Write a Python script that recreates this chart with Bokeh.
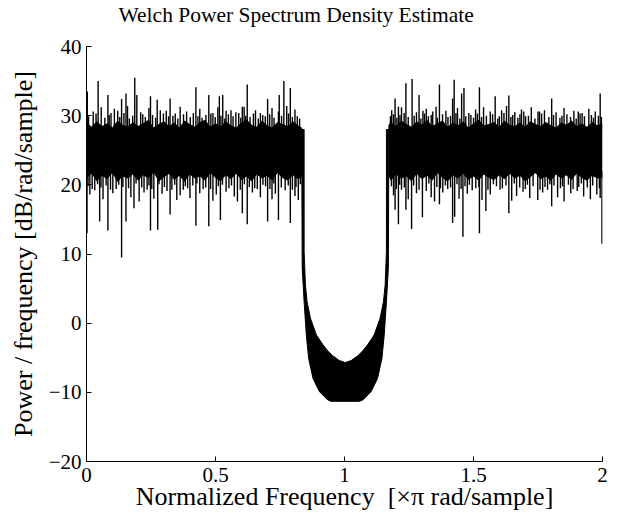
from bokeh.plotting import figure
from bokeh.models import Range1d, FixedTicker, ColumnDataSource
from bokeh.embed import file_html
from bokeh.resources import INLINE

# ---- data ----
# passband core envelope (left band)
left_f = [0.00, 0.02, 0.04, 0.06, 0.08, 0.10, 0.12, 0.14, 0.16, 0.18,
          0.20, 0.22, 0.24, 0.26, 0.28, 0.30, 0.32, 0.34, 0.36, 0.38,
          0.40, 0.42, 0.44, 0.46, 0.48, 0.50, 0.52, 0.54, 0.56, 0.58,
          0.60, 0.62, 0.64, 0.66, 0.68, 0.70, 0.72, 0.74, 0.76, 0.78,
          0.80, 0.82, 0.836]
left_hi = [29.0, 28.4, 29.2, 28.5, 28.9, 28.3, 29.3, 28.7, 28.4, 29.1,
           28.5, 28.9, 29.4, 28.3, 28.8, 29.2, 28.5, 29.0, 28.3, 29.3,
           28.8, 28.4, 29.1, 29.4, 28.4, 28.9, 28.5, 29.2, 28.6, 28.3,
           29.0, 29.5, 28.7, 28.4, 29.3, 28.6, 28.3, 29.1, 28.8, 28.5,
           29.2, 28.6, 28.2]
left_lo = [21.0, 21.6, 20.5, 21.3, 20.8, 21.7, 20.4, 21.2, 20.9, 21.5,
           20.6, 21.4, 20.9, 21.8, 20.5, 21.1, 21.6, 20.7, 21.3, 20.4,
           21.5, 20.9, 21.2, 20.6, 21.7, 21.0, 20.5, 21.4, 20.8, 21.6,
           20.7, 21.2, 20.5, 21.5, 20.9, 21.3, 20.6, 21.7, 21.0, 20.6,
           21.4, 20.8, 21.2]
# passband core envelope (right band)
right_f = [1.17, 1.18, 1.20, 1.22, 1.24, 1.26, 1.28, 1.30, 1.32, 1.34,
           1.36, 1.38, 1.40, 1.42, 1.44, 1.46, 1.48, 1.50, 1.52, 1.54,
           1.56, 1.58, 1.60, 1.62, 1.64, 1.66, 1.68, 1.70, 1.72, 1.74,
           1.76, 1.78, 1.80, 1.82, 1.84, 1.86, 1.88, 1.90, 1.92, 1.94,
           1.96, 1.98, 2.00]
right_hi = [28.6, 29.1, 28.5, 29.3, 28.8, 28.4, 29.2, 28.7, 29.4, 28.5,
            28.9, 29.3, 28.4, 29.0, 28.6, 29.2, 28.3, 28.9, 29.4, 28.6,
            28.8, 29.1, 28.4, 29.3, 28.7, 28.5, 29.0, 28.4, 29.2, 28.8,
            28.5, 29.1, 28.6, 28.3, 29.0, 28.7, 29.3, 28.5, 28.9, 28.4,
            29.1, 28.6, 28.9]
right_lo = [21.3, 20.6, 21.5, 20.9, 21.2, 20.5, 21.6, 20.8, 21.3, 20.6,
            21.7, 21.0, 20.5, 21.4, 20.9, 21.6, 20.7, 21.2, 20.6, 21.5,
            21.0, 20.7, 21.4, 20.8, 21.6, 20.9, 21.3, 20.5, 21.1, 21.7,
            20.8, 21.2, 20.6, 21.5, 20.9, 21.4, 20.7, 21.6, 21.0, 20.6,
            21.3, 20.9, 21.0]

# tall spikes above / below the passband core
spike_up_f = [0.003, 0.045, 0.083, 0.136, 0.153, 0.187, 0.195, 0.248, 0.274, 0.309,
              0.324, 0.424, 0.474, 0.515, 0.528, 0.560, 0.604, 0.623, 0.702, 0.747,
              0.765, 0.790, 0.817, 1.196, 1.209, 1.238, 1.262, 1.289, 1.304, 1.368,
              1.419, 1.425, 1.454, 1.463, 1.523, 1.584, 1.637, 1.695, 1.756, 1.803,
              1.906, 1.991]
spike_up_db = [33.5, 35.0, 33.0, 32.4, 33.2, 35.5, 33.0, 32.8, 32.3, 30.7,
               32.5, 34.1, 33.0, 32.8, 33.0, 30.8, 31.3, 34.5, 32.4, 33.0,
               35.0, 34.0, 29.9, 32.5, 31.3, 34.7, 35.3, 33.0, 30.7, 34.5,
               32.5, 35.2, 33.2, 34.0, 34.1, 32.8, 32.9, 30.6, 30.6, 32.5,
               30.6, 33.2]
spike_dn_f = [0.002, 0.051, 0.083, 0.136, 0.153, 0.184, 0.248, 0.276, 0.324, 0.424,
              0.474, 0.519, 0.604, 0.623, 0.702, 0.744, 0.790, 1.196, 1.209, 1.238,
              1.260, 1.302, 1.368, 1.419, 1.427, 1.459, 1.523, 1.548, 1.637, 1.803,
              1.991, 1.998]
spike_dn_db = [13.0, 14.7, 13.4, 9.5, 14.7, 16.6, 13.4, 13.5, 15.7, 14.1,
               14.0, 14.9, 15.9, 14.3, 14.7, 14.9, 14.5, 16.4, 14.3, 16.4,
               13.6, 15.3, 17.2, 14.5, 15.4, 12.5, 13.0, 16.2, 15.9, 16.9,
               18.1, 11.5]

# medium fringe spikes
fringe_up_f = [0.026, 0.057, 0.095, 0.108, 0.121, 0.159, 0.210, 0.242, 0.286, 0.344,
               0.363, 0.388, 0.439, 0.490, 0.509, 0.541, 0.579, 0.611, 0.655, 0.674,
               0.719, 0.744, 0.776, 0.808, 1.183, 1.221, 1.279, 1.317, 1.342, 1.355,
               1.393, 1.438, 1.482, 1.508, 1.539, 1.565, 1.609, 1.628, 1.660, 1.686,
               1.724, 1.750, 1.775, 1.820, 1.851, 1.889, 1.921, 1.947, 1.972]
fringe_up_db = [30.6, 31.2, 30.4, 31.0, 30.7, 31.4, 30.5, 31.1, 30.8, 30.3,
                31.3, 30.6, 31.0, 30.4, 31.2, 30.7, 30.5, 31.3, 30.8, 30.4,
                31.1, 30.6, 31.4, 30.9, 30.8, 31.2, 30.5, 31.0, 30.6, 31.3,
                30.7, 31.1, 30.4, 30.9, 31.2, 30.6, 30.8, 31.4, 30.5, 30.9,
                31.2, 30.6, 30.8, 30.5, 31.1, 30.7, 30.4, 31.0, 30.6]
fringe_dn_f = [0.013, 0.032, 0.064, 0.102, 0.115, 0.172, 0.204, 0.223, 0.235, 0.261,
               0.293, 0.312, 0.350, 0.363, 0.375, 0.401, 0.439, 0.452, 0.490, 0.503,
               0.541, 0.573, 0.585, 0.643, 0.662, 0.674, 0.719, 0.732, 0.770, 0.808,
               0.821, 1.190, 1.221, 1.247, 1.279, 1.317, 1.336, 1.349, 1.381, 1.400,
               1.444, 1.476, 1.495, 1.533, 1.565, 1.603, 1.648, 1.667, 1.692, 1.718,
               1.749, 1.768, 1.787, 1.826, 1.851, 1.877, 1.902, 1.927, 1.953, 1.978]
fringe_dn_db = [18.6, 19.2, 17.9, 18.8, 19.4, 18.2, 17.6, 18.9, 19.3, 18.0,
                18.7, 19.1, 17.8, 18.5, 19.3, 18.1, 18.8, 19.4, 17.7, 18.6,
                19.0, 18.3, 17.6, 18.9, 19.4, 18.2, 17.9, 18.7, 19.2, 18.4,
                17.8, 18.5, 19.3, 17.9, 18.8, 19.1, 18.2, 17.6, 18.9, 19.4,
                18.0, 18.7, 19.2, 17.8, 18.6, 19.3, 17.7, 18.4, 19.0, 18.1,
                17.8, 18.9, 19.3, 18.2, 17.6, 18.8, 19.1, 18.3, 17.9, 18.6]

# small fringe spikes hugging the core
fringe2_up_f = [0.008, 0.037, 0.071, 0.088, 0.129, 0.145, 0.166, 0.179, 0.218, 0.228,
                0.256, 0.268, 0.298, 0.318, 0.335, 0.354, 0.376, 0.402, 0.414, 0.432,
                0.448, 0.463, 0.482, 0.499, 0.521, 0.536, 0.550, 0.568, 0.590, 0.598,
                0.617, 0.634, 0.647, 0.666, 0.683, 0.693, 0.710, 0.727, 0.756, 0.783,
                0.798, 0.826, 1.178, 1.190, 1.203, 1.215, 1.231, 1.247, 1.270, 1.296,
                1.310, 1.325, 1.336, 1.360, 1.380, 1.401, 1.411, 1.432, 1.447, 1.470,
                1.490, 1.500, 1.515, 1.531, 1.550, 1.574, 1.594, 1.600, 1.618, 1.645,
                1.652, 1.672, 1.680, 1.702, 1.713, 1.738, 1.764, 1.792, 1.810, 1.835,
                1.843, 1.862, 1.876, 1.898, 1.913, 1.930, 1.957, 1.965, 1.984, 1.996]
fringe2_up_db = [29.9, 30.3, 29.7, 30.1, 29.8, 30.4, 29.6, 30.0, 30.2, 29.8,
                 30.1, 29.7, 30.3, 29.9, 30.0, 29.6, 30.2, 29.8, 30.4, 29.9,
                 29.7, 30.1, 30.3, 29.8, 30.0, 29.6, 30.2, 29.9, 30.4, 29.7,
                 30.0, 29.8, 30.3, 29.6, 30.1, 29.9, 30.2, 29.7, 30.0, 30.3,
                 29.8, 29.6, 29.9, 30.2, 29.7, 30.1, 30.4, 29.8, 30.0, 29.6,
                 30.3, 29.9, 30.1, 29.7, 30.2, 29.8, 30.0, 30.4, 29.6, 29.9,
                 30.1, 29.7, 30.3, 29.8, 30.0, 30.2, 29.6, 29.9, 30.4, 29.8,
                 30.1, 29.7, 30.2, 29.9, 30.0, 29.6, 30.3, 29.8, 30.1, 29.7,
                 30.0, 30.2, 29.8, 29.6, 30.3, 29.9, 30.1, 29.7, 30.0, 29.8]
fringe2_dn_f = [0.006, 0.022, 0.043, 0.056, 0.076, 0.093, 0.125, 0.141, 0.163, 0.192,
                0.214, 0.242, 0.253, 0.281, 0.302, 0.331, 0.342, 0.383, 0.392, 0.412,
                0.428, 0.462, 0.481, 0.511, 0.527, 0.552, 0.562, 0.596, 0.612, 0.631,
                0.652, 0.684, 0.694, 0.711, 0.726, 0.755, 0.782, 0.798, 0.812, 0.829,
                1.182, 1.201, 1.214, 1.232, 1.268, 1.289, 1.327, 1.358, 1.372, 1.391,
                1.411, 1.436, 1.452, 1.467, 1.484, 1.509, 1.521, 1.556, 1.577, 1.589,
                1.612, 1.626, 1.658, 1.679, 1.701, 1.709, 1.731, 1.758, 1.777, 1.796,
                1.812, 1.837, 1.845, 1.868, 1.886, 1.908, 1.918, 1.941, 1.962, 1.988]
fringe2_dn_db = [19.8, 19.4, 20.1, 19.6, 19.9, 19.3, 20.0, 19.7, 19.5, 20.2,
                 19.6, 19.9, 19.4, 20.1, 19.7, 19.3, 20.0, 19.8, 19.5, 19.9,
                 20.2, 19.6, 19.4, 19.8, 20.0, 19.5, 19.9, 19.3, 20.1, 19.7,
                 19.5, 20.0, 19.8, 19.4, 20.2, 19.6, 19.9, 19.3, 19.7, 20.1,
                 19.8, 19.4, 20.0, 19.6, 19.9, 19.3, 20.2, 19.7, 19.5, 19.9,
                 19.6, 20.1, 19.4, 19.8, 20.0, 19.5, 19.7, 19.3, 20.1, 19.8,
                 19.5, 19.9, 20.2, 19.6, 19.4, 20.0, 19.8, 19.3, 19.7, 20.1,
                 19.9, 19.5, 19.8, 20.0, 19.4, 19.7, 20.2, 19.6, 19.9, 19.5]

# stopband: lower (outer) and upper (inner) envelope of the fast oscillation
stop_outer_f = [0.834, 0.836, 0.8435, 0.852, 0.861, 0.878, 0.903, 0.935, 0.948,
                1.058, 1.071, 1.103, 1.128, 1.145, 1.154, 1.1625, 1.170, 1.172]
stop_outer_db = [28.0, 8.0, 3.1, -1.7, -5.1, -8.0, -9.9, -11.1, -11.3,
                 -11.3, -11.1, -9.9, -8.0, -5.1, -1.7, 3.1, 8.0, 28.0]
stop_inner_f = [0.8435, 0.8435, 0.8486, 0.855, 0.868, 0.891, 0.916, 0.935, 0.954,
                0.980, 1.003, 1.026, 1.052, 1.071, 1.090, 1.115, 1.138, 1.151,
                1.1575, 1.1625, 1.1625]
stop_inner_db = [28.0, 10.4, 5.5, 3.1, 0.7, -1.7, -3.1, -4.0, -4.7,
                 -5.4, -5.7, -5.4, -4.7, -4.0, -3.1, -1.7, 0.7, 3.1,
                 5.5, 10.4, 28.0]

x_ticks = [0, 0.5, 1, 1.5, 2]
x_tick_labels = ["0", "0.5", "1", "1.5", "2"]
y_ticks = [-20, -10, 0, 10, 20, 30, 40]
y_tick_labels = ["\u221220", "\u221210", "0", "10", "20", "30", "40"]

FONT = "Liberation Serif"
FRAME_LEFT, FRAME_TOP, FRAME_BOTTOM = 86, 45, 461

p = figure(width=618, height=523,
           x_range=Range1d(0, 2), y_range=Range1d(-20, 40),
           output_backend="svg", toolbar_location=None,
           min_border_left=FRAME_LEFT, min_border_right=16,
           min_border_top=FRAME_TOP, min_border_bottom=523 - FRAME_BOTTOM)

p.title.text = "Welch Power Spectrum Density Estimate"
p.title.text_font = FONT
p.title.text_font_size = "21.5px"
p.title.text_font_style = "normal"
p.title.text_color = "black"
p.title.align = "left"
p.title.offset = 32
p.title.vertical_align = "bottom"
p.title.standoff = 0
p.title.padding = (0, 0, 0, 20)

p.xgrid.visible = False
p.ygrid.visible = False
p.outline_line_color = None
p.background_fill_color = "white"
p.border_fill_color = "white"

for ax, ticks, labels in ((p.xaxis[0], x_ticks, x_tick_labels),
                          (p.yaxis[0], y_ticks, y_tick_labels)):
    ax.ticker = FixedTicker(ticks=ticks)
    ax.major_label_overrides = {t: l for t, l in zip(ticks, labels)}
    ax.major_tick_in = 5
    ax.major_tick_out = 0
    ax.minor_tick_line_color = None
    ax.axis_line_color = "black"
    ax.major_tick_line_color = "black"
    ax.major_label_text_font = FONT
    ax.major_label_text_font_size = "21px"
    ax.major_label_text_color = "black"
    ax.axis_label_text_font = FONT
    ax.axis_label_text_font_size = "26px"
    ax.axis_label_text_font_style = "normal"
    ax.axis_label_text_color = "black"

p.xaxis.axis_label = "Normalized Frequency\u00a0 [\u00d7\u03c0 rad/sample]"
p.yaxis.axis_label = "Power / frequency [dB/rad/sample]"
p.xaxis.major_label_standoff = 6
p.xaxis.axis_label_standoff = -3
p.yaxis.major_label_standoff = 5
p.yaxis.axis_label_standoff = 8

# passband core
p.varea(x=left_f, y1=left_lo, y2=left_hi, fill_color="black")
p.varea(x=right_f, y1=right_lo, y2=right_hi, fill_color="black")

# spikes
up = ColumnDataSource(dict(f=spike_up_f + fringe_up_f + fringe2_up_f,
                           db=spike_up_db + fringe_up_db + fringe2_up_db))
dn = ColumnDataSource(dict(f=spike_dn_f + fringe_dn_f + fringe2_dn_f,
                           db=spike_dn_db + fringe_dn_db + fringe2_dn_db))
p.segment(x0="f", y0=27.5, x1="f", y1="db", source=up, line_color="black", line_width=1.4)
p.segment(x0="f", y0=22.0, x1="f", y1="db", source=dn, line_color="black", line_width=1.4)

# stopband
stop_x = stop_outer_f + stop_inner_f[::-1]
stop_y = stop_outer_db + stop_inner_db[::-1]
p.patch(x=stop_x, y=stop_y, fill_color="black", line_color="black", line_width=1)

open("out.html", "w").write(file_html(p, INLINE))
